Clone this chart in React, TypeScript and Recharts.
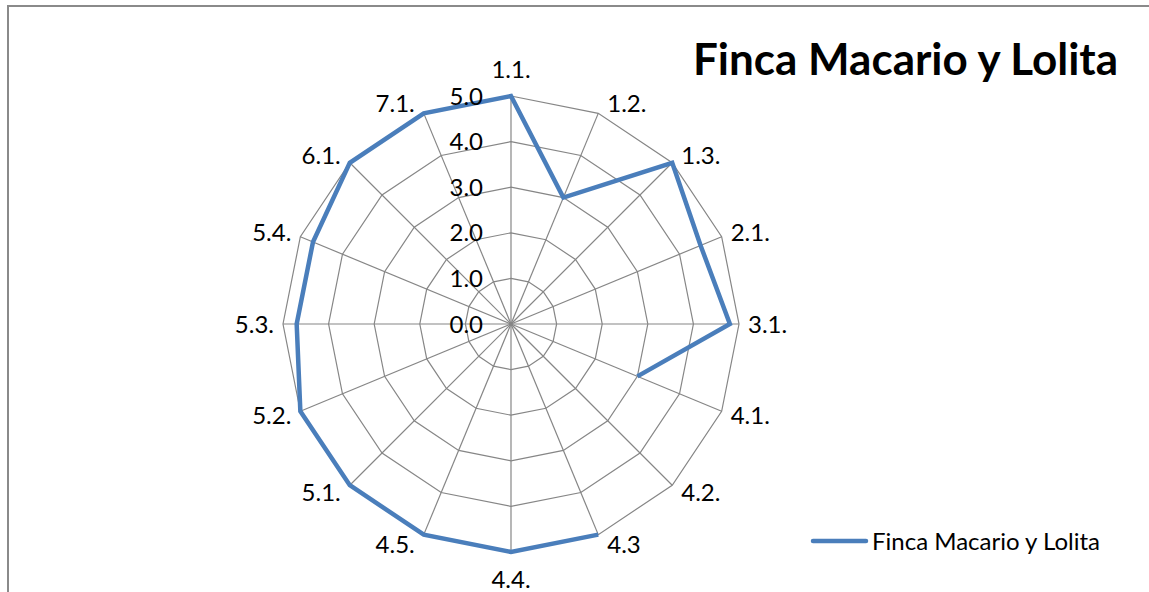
import React from 'react';
import {
  RadarChart,
  Radar,
  PolarGrid,
  PolarAngleAxis,
  PolarRadiusAxis,
  Legend,
} from 'recharts';

// criterios evaluados (4.2. sin dato)
const categories = ['1.1.', '1.2.', '1.3.', '2.1.', '3.1.', '4.1.', '4.2.', '4.3', '4.4.', '4.5.', '5.1.', '5.2.', '5.3.', '5.4.', '6.1.', '7.1.'];
const scores: (number | null)[] = [5, 3, 5, 4.5, 4.8, 3, null, 5, 5, 5, 5, 5, 4.7, 4.7, 5, 5];
const radiusTicks = [0, 1, 2, 3, 4, 5];
const seriesName = 'Finca Macario y Lolita';
const chartTitle = 'Finca Macario y Lolita';

const data = categories.map((name, i) => ({ name, score: scores[i] }));

const W = 1149;
const H = 592;
const CX = 511;
const CY = 324;
const R = 228;
const BLUE = '#4a7ebb';
const GRID = '#868686';
const FONT = 'Lato, "Open Sans", sans-serif';

function AngleTick(props: any) {
  const { x, y, payload } = props;
  const cx = props.cx ?? CX;
  const cy = props.cy ?? CY;
  const dx = x - cx;
  const dy = y - cy;
  const len = Math.hypot(dx, dy) || 1;
  const ux = dx / len;
  const uy = dy / len;
  // point on the outer ring
  const px = cx + ux * R;
  const py = cy + uy * R;
  let anchor: 'start' | 'middle' | 'end' = 'middle';
  let tx = px;
  let ty = py;
  if (Math.abs(ux) < 0.1) {
    ty = py + uy * 27;
  } else {
    anchor = ux > 0 ? 'start' : 'end';
    tx = px + (ux > 0 ? 9 : -9);
    ty = py + uy * 11;
  }
  return (
    <text x={tx} y={ty + 8.5} textAnchor={anchor} fontFamily={FONT} fontSize={24} fill="#000">
      {payload.value}
    </text>
  );
}

function RadiusTick(props: any) {
  const { x, y, payload } = props;
  return (
    <text x={x - 28} y={y + 8.5} textAnchor="end" fontFamily={FONT} fontSize={24} fill="#000">
      {Number(payload.value).toFixed(1)}
    </text>
  );
}

// closed line that leaves a gap where a value is missing (like Excel)
function GappedLoop(props: any) {
  const pts = (props.points || []) as any[];
  const n = pts.length;
  const ok = (p: any) => p && p.value != null && Number.isFinite(p.x) && Number.isFinite(p.y);
  const gapAt = pts.findIndex((p) => !ok(p));
  let d = '';
  if (gapAt < 0) {
    d = pts.map((p, i) => `${i ? 'L' : 'M'}${p.x},${p.y}`).join('') + 'Z';
  } else {
    let pen = false;
    for (let k = 1; k <= n; k++) {
      const p = pts[(gapAt + k) % n];
      if (!ok(p)) {
        pen = false;
        continue;
      }
      d += `${pen ? 'L' : 'M'}${p.x},${p.y}`;
      pen = true;
    }
  }
  return <path d={d} fill="none" stroke={BLUE} strokeWidth={4.5} strokeLinejoin="miter" />;
}

function LegendContent() {
  return (
    <svg width={340} height={30}>
      <line x1={5} y1={15} x2={58} y2={15} stroke={BLUE} strokeWidth={4.5} strokeLinecap="round" />
      <text x={64} y={23.5} fontFamily={FONT} fontSize={24} fill="#000">
        {seriesName}
      </text>
    </svg>
  );
}

export default function App() {
  return (
    <div style={{ position: 'fixed', left: 0, top: 0, width: W, height: H, overflow: 'hidden', background: '#fff' }}>
      <div
        style={{
          position: 'absolute',
          left: 7,
          top: 5,
          width: 1300,
          height: 700,
          borderTop: '2px solid #8a8a8a',
          borderLeft: '2px solid #8a8a8a',
        }}
      />
      <div style={{ position: 'absolute', left: 0, top: 0 }}>
        <RadarChart width={W} height={H} data={data} cx={CX} cy={CY} outerRadius={R} margin={{ top: 0, right: 0, bottom: 0, left: 0 }}>
          <PolarGrid gridType="polygon" stroke={GRID} strokeWidth={1.2} />
          <PolarAngleAxis dataKey="name" tick={<AngleTick />} tickLine={false} axisLine={false} />
          <PolarRadiusAxis
            angle={90}
            type="number"
            domain={[0, 5]}
            ticks={radiusTicks as any}
            tickCount={6}
            tick={<RadiusTick />}
            axisLine={false}
            tickLine={false}
          />
          <Radar
            name={seriesName}
            dataKey="score"
            stroke={BLUE}
            fill="none"
            dot={false}
            shape={<GappedLoop />}
            isAnimationActive={false}
          />
          <Legend content={<LegendContent />} wrapperStyle={{ left: 808, top: 526, width: 340, height: 30 }} />
        </RadarChart>
      </div>
      <svg width={W} height={H} style={{ position: 'absolute', left: 0, top: 0, pointerEvents: 'none' }}>
        <text x={693} y={75} fontFamily={FONT} fontWeight="bold" fontSize={44} fill="#000">
          {chartTitle}
        </text>
      </svg>
    </div>
  );
}
